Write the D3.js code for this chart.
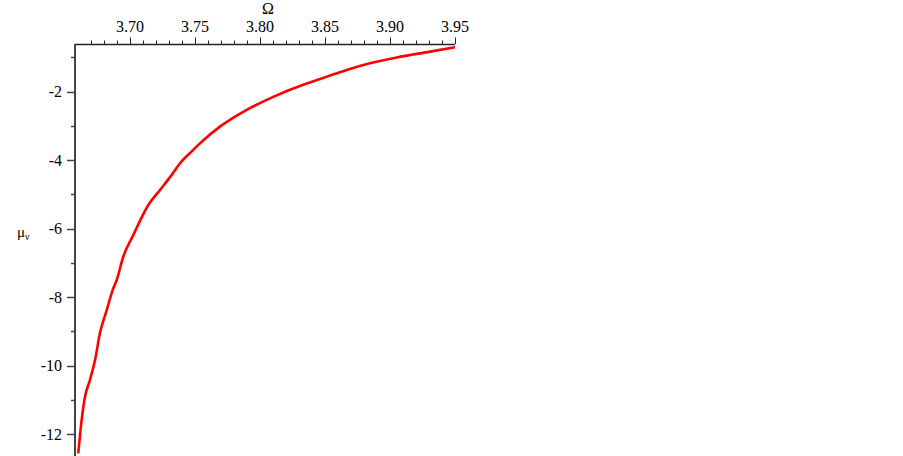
<!DOCTYPE html>
<html>
<head>
<meta charset="utf-8">
<script src="https://cdn.jsdelivr.net/npm/d3@7"></script>
<style>
  body { margin: 0; background: #fff; }
  svg { display: block; }
</style>
</head>
<body>
<svg width="903" height="456"></svg>
<script>
// data (Omega vs mu_v)
const omega = [3.6602, 3.6628, 3.6654, 3.6692, 3.6731, 3.6769, 3.6821, 3.6867, 3.6898,
               3.6948, 3.7025, 3.7141, 3.7231, 3.7321, 3.7385, 3.7487, 3.7538, 3.7692,
               3.7898, 3.8102, 3.8359, 3.8462, 3.8538, 3.8795, 3.9052, 3.9308, 3.9500];
const muV = [-12.56, -11.59, -10.91, -10.42, -9.84, -9.05, -8.38, -7.79, -7.50,
             -6.82, -6.19, -5.31, -4.87, -4.43, -4.09, -3.70, -3.51, -3.02,
             -2.53, -2.15, -1.76, -1.63, -1.53, -1.22, -1.00, -0.83, -0.70];
const xMajor = [3.70, 3.75, 3.80, 3.85, 3.90, 3.95];
const xMinor = d3.range(367, 396).map(d => d / 100);
const yMajor = [-2, -4, -6, -8, -10, -12];
const yMinor = [-1, -3, -5, -7, -9, -11];

const serif = '"Liberation Serif"';
const svg = d3.select("svg");

const x = d3.scaleLinear().domain([3.6577, 3.95]).range([75, 455]);
const y = d3.scaleLinear().domain([-0.607, -12.64]).range([44, 456]);

// x axis along the top
const gx = svg.append("g");
gx.append("line")
    .attr("x1", 75).attr("x2", x(3.95))
    .attr("y1", 44.5).attr("y2", 44.5)
    .attr("stroke", "#222").attr("stroke-width", 1.3);
gx.selectAll(".minor").data(xMinor).join("line")
    .attr("x1", d => Math.round(x(d)) + 0.5).attr("x2", d => Math.round(x(d)) + 0.5)
    .attr("y1", 44).attr("y2", 40.5)
    .attr("stroke", "#222");
gx.selectAll(".major").data(xMajor).join("line")
    .attr("x1", d => Math.round(x(d)) + 0.5).attr("x2", d => Math.round(x(d)) + 0.5)
    .attr("y1", 44).attr("y2", 37.5)
    .attr("stroke", "#222");
gx.selectAll("text").data(xMajor).join("text")
    .attr("x", d => x(d)).attr("y", 32)
    .attr("text-anchor", "middle")
    .style("font-family", serif)
    .style("font-size", "16px")
    .text(d => d.toFixed(2));
svg.append("text")
    .attr("x", 268).attr("y", 14)
    .attr("text-anchor", "middle")
    .style("font-family", serif)
    .style("font-size", "16px")
    .text("Ω");

// y axis on the left
const gy = svg.append("g");
gy.append("line")
    .attr("x1", 75).attr("x2", 75)
    .attr("y1", 44).attr("y2", 456)
    .attr("stroke", "#444").attr("stroke-width", 2);
gy.selectAll(".minor").data(yMinor).join("line")
    .attr("x1", 75).attr("x2", 71)
    .attr("y1", d => Math.round(y(d)) + 0.5).attr("y2", d => Math.round(y(d)) + 0.5)
    .attr("stroke", "#444").attr("stroke-width", 1.5);
gy.selectAll(".major").data(yMajor).join("line")
    .attr("x1", 75).attr("x2", 67)
    .attr("y1", d => Math.round(y(d)) + 0.5).attr("y2", d => Math.round(y(d)) + 0.5)
    .attr("stroke", "#444").attr("stroke-width", 1.5);
gy.selectAll("text").data(yMajor).join("text")
    .attr("x", 62).attr("y", d => y(d) + 5.5)
    .attr("text-anchor", "end")
    .style("font-family", serif)
    .style("font-size", "16px")
    .text(d => "-" + Math.abs(d));

const lab = svg.append("text").attr("x", 17).attr("y", 237)
    .style("font-family", serif).style("font-size", "15px");
lab.append("tspan").text("μ");
lab.append("tspan").attr("dy", 3).style("font-size", "10px").text("ν");

// curve
const line = d3.line()
    .x((d, i) => x(omega[i]))
    .y(d => y(d))
    .curve(d3.curveMonotoneX);

svg.append("path")
    .datum(muV)
    .attr("fill", "none")
    .attr("stroke", "#ff0000")
    .attr("stroke-width", 2.6)
    .attr("d", line);
</script>
</body>
</html>
